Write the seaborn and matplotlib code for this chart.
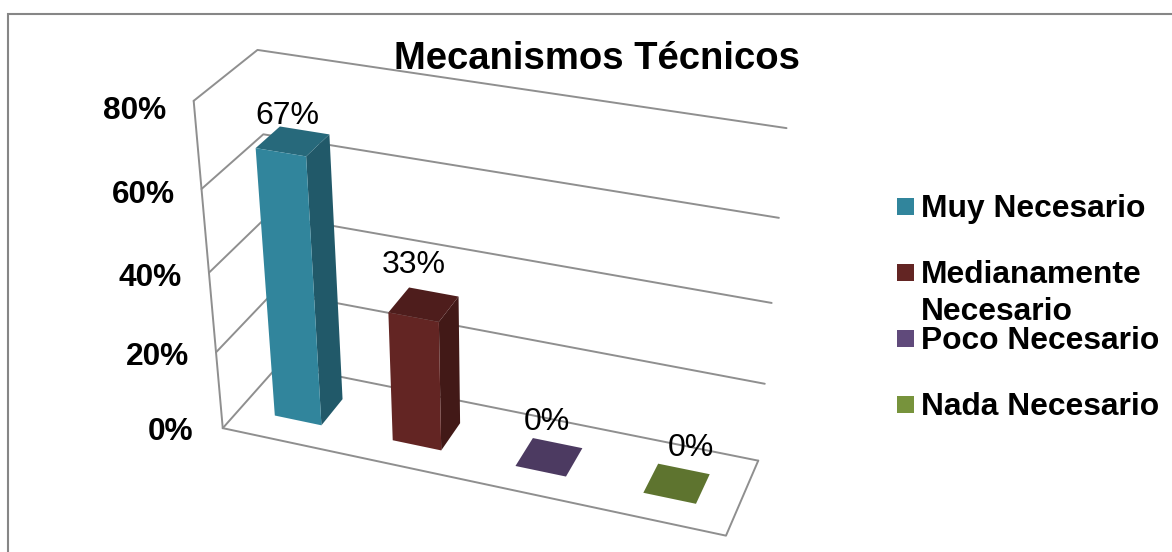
import numpy as np
import matplotlib
matplotlib.use("Agg")
import matplotlib.pyplot as plt
from matplotlib.patches import Polygon, Rectangle
from matplotlib.transforms import Transform
import seaborn as sns

# Chart content
TITLE = "Mecanismos Técnicos"
categories = ["Muy Necesario", "Medianamente\nNecesario", "Poco Necesario", "Nada Necesario"]
percentages = [67, 33, 0, 0]
tick_values = [0, 20, 40, 60, 80]

front_colors = ["#31859C", "#632523", "#604A7B", "#77933C"]
TOP_SHADE, SIDE_SHADE = 0.79, 0.67
GRID = "#8f8f8f"

sns.set_theme(style="white")
plt.rcParams["font.family"] = ["Liberation Sans", "DejaVu Sans"]

# Camera for the 3D box: (category axis, depth 0-1, percent) -> pixel.
# Corners of the box, used to solve the projection.
X0, X1 = -0.5, 3.5
box_anchors = [
    ((X0, 0, 80), (194, 101)), ((X0, 0, 60), (202, 189)), ((X0, 0, 20), (216, 352)),
    ((X0, 0, 0), (222, 428)), ((X0, 1, 80), (257, 50)), ((X0, 1, 60), (263, 134)),
    ((X0, 1, 0), (280, 365)), ((X1, 1, 80), (787, 128)), ((X1, 1, 60), (778, 218)),
    ((X1, 1, 40), (772, 303)), ((X1, 1, 20), (765, 384)), ((X1, 1, 0), (758, 460)),
    ((X1, 0, 0), (726, 536)),
]


def solve_camera(anchors):
    rows = []
    for (x, d, v), (u, w) in anchors:
        p = [x, d * 4, v / 20, 1]
        rows.append(p + [0, 0, 0, 0] + [-u / 500 * c for c in p])
        rows.append([0, 0, 0, 0] + p + [-w / 500 * c for c in p])
    m = np.linalg.svd(np.array(rows))[2][-1].reshape(3, 4)
    m[:2] *= 500
    return m @ np.diag([1, 4, 1 / 20, 1])


CAMERA = solve_camera(box_anchors)


def project(x, d, v):
    h = CAMERA @ np.array([x, d, v, 1.0])
    return h[0] / h[2], h[1] / h[2]


class DepthPlane(Transform):
    """Maps (category, percent) on a plane of constant depth to pixels."""
    input_dims = output_dims = 2

    def __init__(self, plane_depth):
        super().__init__()
        self.plane_depth = plane_depth

    def transform_non_affine(self, values):
        values = np.asarray(values, dtype=float)
        pts = np.column_stack([values[:, 0], np.full(len(values), self.plane_depth),
                               values[:, 1], np.ones(len(values))])
        h = pts @ CAMERA.T
        return h[:, :2] / h[:, 2:]


fig = plt.figure(figsize=(11.72, 5.52), dpi=100)
canvas = fig.add_axes([0, 0, 1, 1], zorder=0)
canvas.set_xlim(0, 1172)
canvas.set_ylim(552, 0)
canvas.axis("off")

# Chart frame
canvas.plot([8, 8, 1172], [552, 14, 14], color="#868686", lw=1.5, solid_joinstyle="miter")


def wall_line(*points):
    xs, ys = zip(*[project(*p) for p in points])
    canvas.plot(xs, ys, color=GRID, lw=1.4, solid_capstyle="round", zorder=1)


# Walls and floor
for t in tick_values:
    wall_line((X0, 0, t), (X0, 1, t), (X1, 1, t))
wall_line((X0, 0, tick_values[0]), (X0, 0, tick_values[-1]))
wall_line((X0, 0, 0), (X1, 0, 0), (X1, 1, 0))

# Axis tick labels
tick_shift = {0: (-29, 4), 20: (-27, 5), 40: (-27, 5), 60: (-27, 6), 80: (-27, 10)}
for t in tick_values:
    px, py = project(X0, 0, t)
    dx, dy = tick_shift[t]
    canvas.text(px + dx, py + dy, f"{t}%", ha="right", va="center",
                fontsize=22.8, fontweight="bold", color="black")

# Front faces of the columns, placed on the front plane of the bars
BAR_D0, BAR_D1 = 0.3, 0.7
bars_ax = fig.add_axes([0, 0, 1, 1], zorder=1)
sns.barplot(x=categories, y=percentages, hue=categories, palette=front_colors,
            width=0.4, legend=False, ax=bars_ax, saturation=1)
bars_ax.axis("off")
front_plane = DepthPlane(BAR_D0) + canvas.transData
bars = sorted(bars_ax.patches, key=lambda b: b.get_x())

for bar, color in zip(bars, front_colors):
    bar.set_transform(front_plane)
    bar.set_clip_on(False)
    bar.set_edgecolor("none")
    x0, x1 = bar.get_x(), bar.get_x() + bar.get_width()
    h = bar.get_height()
    rgb = np.array(matplotlib.colors.to_rgb(color))
    top = [project(x0, BAR_D0, h), project(x1, BAR_D0, h),
           project(x1, BAR_D1, h), project(x0, BAR_D1, h)]
    side = [project(x1, BAR_D0, 0), project(x1, BAR_D0, h),
            project(x1, BAR_D1, h), project(x1, BAR_D1, 0)]
    if h > 0:
        canvas.add_patch(Polygon(side, facecolor=rgb * SIDE_SHADE, edgecolor="none", zorder=3))
    canvas.add_patch(Polygon(top, facecolor=rgb * TOP_SHADE, edgecolor="none", zorder=3))

# Value labels sit above each column
label_offsets = [(-5, -25), (-10, -39), (-2, -35), (14, -35)]
for bar, pct, (dx, dy) in zip(bars, percentages, label_offsets):
    cx = bar.get_x() + bar.get_width() / 2
    px, py = project(cx, (BAR_D0 + BAR_D1) / 2, bar.get_height())
    canvas.text(px + dx, py + dy, f"{pct}%", ha="center", va="center",
                fontsize=23, color="black", zorder=5)

canvas.text(597, 59, TITLE, ha="center", va="center", fontsize=27.5,
            fontweight="bold", color="black", zorder=5)

# Legend
legend_rows = [198, 264, 330, 396]
for label, color, y in zip(categories, front_colors, legend_rows):
    canvas.add_patch(Rectangle((897, y), 17, 17, facecolor=color, edgecolor="none"))
    first, *rest = label.split("\n")
    canvas.text(921, y + 19, first, ha="left", va="baseline", fontsize=22.9,
                fontweight="bold", color="black")
    for line in rest:
        canvas.text(921, y + 56, line, ha="left", va="baseline", fontsize=22.9,
                    fontweight="bold", color="black")

fig.savefig("out.png", dpi=100, facecolor="white")
